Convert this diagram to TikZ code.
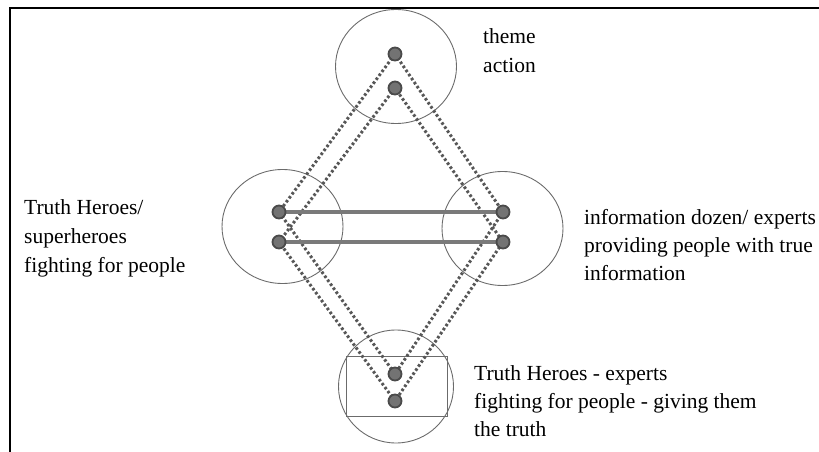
\documentclass[tikz,border=0pt]{standalone}
\usepackage{fontspec}
\setmainfont{Liberation Serif}
\usetikzlibrary{shapes.geometric}
\definecolor{ringc}{HTML}{6B6B6B}
\definecolor{dotfill}{HTML}{737373}
\definecolor{dotline}{HTML}{4A4A4A}
\definecolor{dashc}{HTML}{575757}
\definecolor{barc}{HTML}{7A7A7A}
\begin{document}
\begin{tikzpicture}[x=1pt,y=-1pt,
  ring/.style={draw=ringc,line width=0.9pt,ellipse,minimum width=121pt,minimum height=114pt,inner sep=0pt},
  pt/.style={circle,fill=dotfill,draw=dotline,line width=1.8pt,minimum size=13pt,inner sep=0pt},
  dotted link/.style={draw=dashc,line width=3pt,dash pattern=on 2.6pt off 2.3pt},
  bar/.style={draw=barc,line width=3.6pt},
  lbl/.style={font=\fontsize{21.5}{26}\selectfont,anchor=base west,inner sep=0pt}]
\useasboundingbox (0,0) rectangle (819,452);
% frame
\draw[line width=2pt] (10,452) -- (10,8.5) -- (819,8.5);
% rings
\node[ring] (ct) at (396,66.5) {};
\node[ring] (cl) at (282.5,226.5) {};
\node[ring] (cr) at (502.5,228.5) {};
\node[ring,minimum width=115pt,minimum height=113pt] (cb) at (396,386.5) {};
\node[draw=ringc,line width=0.9pt,minimum width=101pt,minimum height=60pt,inner sep=0pt] (box) at (396.5,386) {};
% dot positions
\coordinate (t1) at (395,54);
\coordinate (t2) at (395,88);
\coordinate (l1) at (279,212);
\coordinate (l2) at (279,242);
\coordinate (r1) at (503,212);
\coordinate (r2) at (503,242);
\coordinate (b1) at (395,374);
\coordinate (b2) at (395,401);
% dotted links
\draw[dotted link] (t1) -- (l1) -- (b1) -- (r1) -- (t1);
\draw[dotted link] (t2) -- (l2) -- (b2) -- (r2) -- (t2);
% solid bars
\draw[bar] (l1) -- (r1);
\draw[bar] (l2) -- (r2);
% dots
\foreach \p in {t1,t2,l1,l2,r1,r2,b1,b2} \node[pt] (d\p) at (\p) {};
% labels
\node[lbl] (tt1) at (483,44) {theme};
\node[lbl] (tt2) at (483,73) {action};
\node[lbl] (lt1) at (24,214) {Truth Heroes/};
\node[lbl] (lt2) at (24,243) {superheroes};
\node[lbl] (lt3) at (24,272) {fighting for people};
\node[lbl] (rt1) at (584,224) {information dozen/ experts};
\node[lbl] (rt2) at (584,252) {providing people with true};
\node[lbl] (rt3) at (584,280) {information};
\node[lbl] (bt1) at (474,380) {Truth Heroes - experts};
\node[lbl] (bt2) at (474,408) {fighting for people - giving them};
\node[lbl] (bt3) at (474,436) {the truth};
\end{tikzpicture}
\end{document}
